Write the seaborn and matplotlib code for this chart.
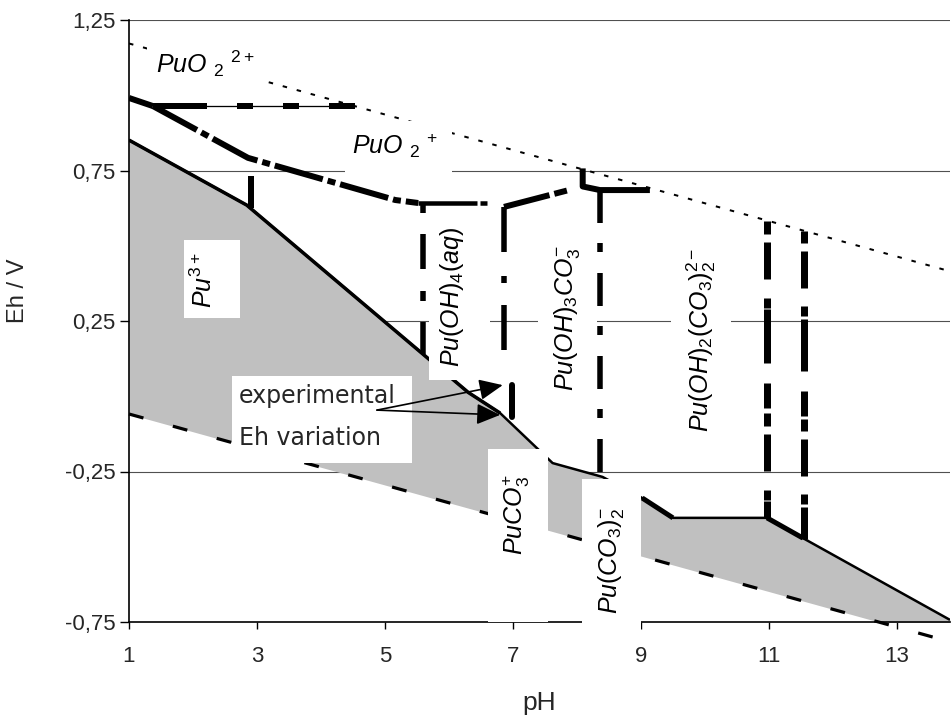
import matplotlib
matplotlib.use("Agg")
import matplotlib.pyplot as plt
from matplotlib.patches import Rectangle
import numpy as np
import pandas as pd
import seaborn as sns

# ---------------- data ----------------
ph_limits = [1.0, 13.83]
eh_limits = [-0.75, 1.25]
x_ticks = [1, 3, 5, 7, 9, 11, 13]
x_tick_labels = ["1", "3", "5", "7", "9", "11", "13"]
y_ticks = [-0.75, -0.25, 0.25, 0.75, 1.25]
y_tick_labels = ["-0,75", "-0,25", "0,25", "0,75", "1,25"]
grid_eh = [1.25, 0.75, 0.25, -0.25]

# water stability limits
water_ph = [1.0, 13.85]
o2_eh = [1.172, 0.414]
h2_eh = [-0.059, -0.817]

# Pu(III) upper boundary (top of grey field)
pu3_ph = [1.0, 2.84, 6.30, 6.80, 7.62, 8.40, 9.02, 9.50, 10.97, 11.53, 13.83]
pu3_eh = [0.851, 0.635, 0.013, -0.056, -0.222, -0.268, -0.338, -0.404, -0.404, -0.471, -0.743]

# Pu(IV)/PuO2+ boundary
pu4_ph = [1.0, 1.375, 2.86, 5.16, 5.52]
pu4_eh = [0.991, 0.964, 0.792, 0.652, 0.642]

# PuO2(2+)/PuO2+ boundary
puo2_ph = [1.375, 4.53]
puo2_eh = [0.964, 0.964]

# Pu(OH)4(aq) upper boundary
puoh4_ph = [5.52, 6.60]
puoh4_eh = [0.642, 0.642]

# carbonate complex upper boundaries
carb_ph = [6.86, 8.09]
carb_eh = [0.629, 0.697]
step_ph = [8.09, 8.09, 8.36, 9.14]
step_eh = [0.757, 0.697, 0.685, 0.685]

# vertical field boundaries
vert_ph = [2.90, 5.60, 6.86, 8.36, 10.97, 11.55]
vert_top = [0.732, 0.642, 0.629, 0.685, 0.583, 0.548]
vert_bottom = [0.625, 0.139, 0.081, -0.262, -0.404, -0.473]

# experimental Eh variation
exp_ph = [6.98, 6.98]
exp_eh = [0.037, -0.069]
arrow_tail = (4.875, -0.046)
arrow_tip_ph = [6.84, 6.80]
arrow_tip_eh = [0.037, -0.062]

# ---------------- style ----------------
sns.set_theme(style="white")
plt.rcParams["font.family"] = ["Liberation Sans", "DejaVu Sans"]
plt.rcParams["mathtext.fontset"] = "custom"
plt.rcParams["mathtext.it"] = "Liberation Sans:italic"
plt.rcParams["mathtext.rm"] = "Liberation Sans"
plt.rcParams["mathtext.bf"] = "Liberation Sans:bold"
plt.rcParams["mathtext.default"] = "it"
plt.rcParams["lines.scale_dashes"] = False

PX = 0.72  # points per pixel at dpi 100

fig = plt.figure(figsize=(9.53, 7.15), dpi=100)
ax = fig.add_axes([129 / 953, 1 - 622 / 715, 821 / 953, 602 / 715])
ax.set_xlim(*ph_limits)
ax.set_ylim(*eh_limits)


def draw(x, y, lw_px, dashes_px=None, z=3, clip=True, cap="butt"):
    ls = "-" if dashes_px is None else (0, tuple(d * PX for d in dashes_px))
    sns.lineplot(x=x, y=y, ax=ax, color="black", linewidth=lw_px * PX,
                 linestyle=ls, estimator=None, sort=False, zorder=z,
                 clip_on=clip, solid_capstyle=cap, dash_capstyle="butt")


# grid lines
for g in grid_eh:
    ax.axhline(g, color="#505050", lw=0.8, zorder=0.5)

# grey Pu(III) field between the Pu(III) boundary and the H2 line
h2_at = np.interp(pu3_ph, water_ph, h2_eh)
ax.fill_between(pu3_ph, h2_at, pu3_eh, color="#c0c0c0", lw=0, zorder=1)

# water lines
draw(water_ph, o2_eh, 2.0, (4.5, 10))
draw(water_ph, h2_eh, 3.2, (15, 30.5), clip=False)

# Pu(III) boundary
draw(pu3_ph, pu3_eh, 2.5)
draw(pu3_ph[:4], pu3_eh[:4], 3.5)
draw(pu3_ph[6:8], pu3_eh[6:8], 5)
draw(pu3_ph[8:10], pu3_eh[8:10], 5)

# Pu(IV)/PuO2+ boundary
draw(pu4_ph[:2], pu4_eh[:2], 6)
draw(pu4_ph[1:], pu4_eh[1:], 6, (50, 5, 8, 5))

# PuO2(2+)/PuO2+ boundary: thin line + thick dashes
draw(puo2_ph, puo2_eh, 1.3)
draw(puo2_ph, puo2_eh, 6, (54, 30, 16, 30, 16, 30, 30, 30))

# Pu(OH)4 upper boundary and carbonate boundaries
draw(puoh4_ph, puoh4_eh, 4.5, (59, 3, 7, 20))
draw(carb_ph, carb_eh, 6, (47, 5, 13, 40))
draw(step_ph, step_eh, 6)

# vertical boundaries
vert_styles = [(6, None), (5.5, (10, 21, 35, 22)), (5.5, (45, 24, 7, 22)),
               (5.5, (33, 20, 9, 21)), (7, (13, 8, 37, 19, 10, 1, 54, 20, 25, 5)),
               (7, (12, 8, 37, 18, 10, 3, 52, 20, 25, 3))]
for p, t, b, (lw, d) in zip(vert_ph, vert_top, vert_bottom, vert_styles):
    draw([p, p], [t, b], lw, d)

# experimental bar
draw(exp_ph, exp_eh, 6, z=6, cap="round")


# ---------------- white label boxes (pixel layout -> axes fraction) ----------------
def box(x0, y0, x1, y1, clip=True):
    fx0 = (x0 - 129) / 821
    fy0 = (622 - y1) / 602
    r = Rectangle((fx0, fy0), (x1 - x0) / 821, (y1 - y0) / 602,
                  transform=ax.transAxes, fc="white", ec="none",
                  zorder=4, clip_on=clip)
    ax.add_patch(r)


box(147, 45, 262, 92)      # PuO2 2+
box(345, 121, 452, 175)    # PuO2 +
box(184, 240, 240, 318)    # Pu3+
box(429, 215, 490, 380)    # Pu(OH)4(aq)
box(538, 232, 597, 400)    # Pu(OH)3CO3-
box(671, 240, 731, 440)    # Pu(OH)2(CO3)2 2-
box(488, 449, 548, 621.5)  # PuCO3+
box(582, 479, 641.5, 634, clip=False)  # Pu(CO3)2-
box(232, 376, 412, 463)    # experimental

# ---------------- labels ----------------
lab = dict(fontsize=18, color="black", zorder=5)
ax.text(1.42, 1.074, r"$PuO\ _2\ ^{2+}$", ha="left", va="baseline", **lab)
ax.text(4.48, 0.805, r"$PuO\ _2\ ^{+}$", ha="left", va="baseline", **lab)
ax.text(2.17, 0.386, r"$Pu^{3+}$", ha="center", va="center", rotation=90, **lab)
ax.text(6.05, 0.330, r"$Pu(OH)_4(aq)$", ha="center", va="center", rotation=90, **lab)
ax.text(7.84, 0.260, r"$Pu(OH)_3CO_3^{-}$", ha="center", va="center", rotation=90, **lab)
ax.text(9.95, 0.187, r"$Pu(OH)_2(CO_3)_2^{2-}$", ha="center", va="center", rotation=90, **lab)
ax.text(7.06, -0.391, r"$PuCO_3^{+}$", ha="center", va="center", rotation=90, **lab)
ax.text(8.53, -0.547, r"$Pu(CO_3)_2^{-}$", ha="center", va="center", rotation=90, **lab)

exp_font = dict(fontsize=17, family=["DejaVu Sans"], zorder=5)
ax.text(2.72, -0.022, "experimental", ha="left", va="baseline", **exp_font)
ax.text(2.72, -0.162, "Eh variation", ha="left", va="baseline", **exp_font)

for tp, te in zip(arrow_tip_ph, arrow_tip_eh):
    ax.annotate("", xy=(tp, te), xytext=arrow_tail,
                arrowprops=dict(arrowstyle="-|>,head_length=0.9,head_width=0.4",
                                color="black", lw=1.2, shrinkA=0, shrinkB=0,
                                mutation_scale=16),
                zorder=6)

# ---------------- axes ----------------
for s in ["top", "right"]:
    ax.spines[s].set_visible(False)
for s in ["left", "bottom"]:
    ax.spines[s].set_color("black")
    ax.spines[s].set_linewidth(1.2)

ax.set_xticks(x_ticks)
ax.set_xticklabels(x_tick_labels)
ax.set_yticks(y_ticks)
ax.set_yticklabels(y_tick_labels)
ax.tick_params(axis="x", bottom=True, direction="out", length=5, width=1,
               color="black", labelsize=16, pad=12)
ax.tick_params(axis="y", left=True, direction="out", length=6.5, width=1,
               color="black", labelsize=16, pad=3)
ax.set_xlabel("")
ax.set_ylabel("")
ax.text(0.5, -0.135, "pH", transform=ax.transAxes, ha="center", va="center",
        fontsize=19)
ax.text(-0.135, 0.55, "Eh / V", transform=ax.transAxes, ha="center",
        va="center", rotation=90, fontsize=17)

fig.savefig("out.png", dpi=100)
